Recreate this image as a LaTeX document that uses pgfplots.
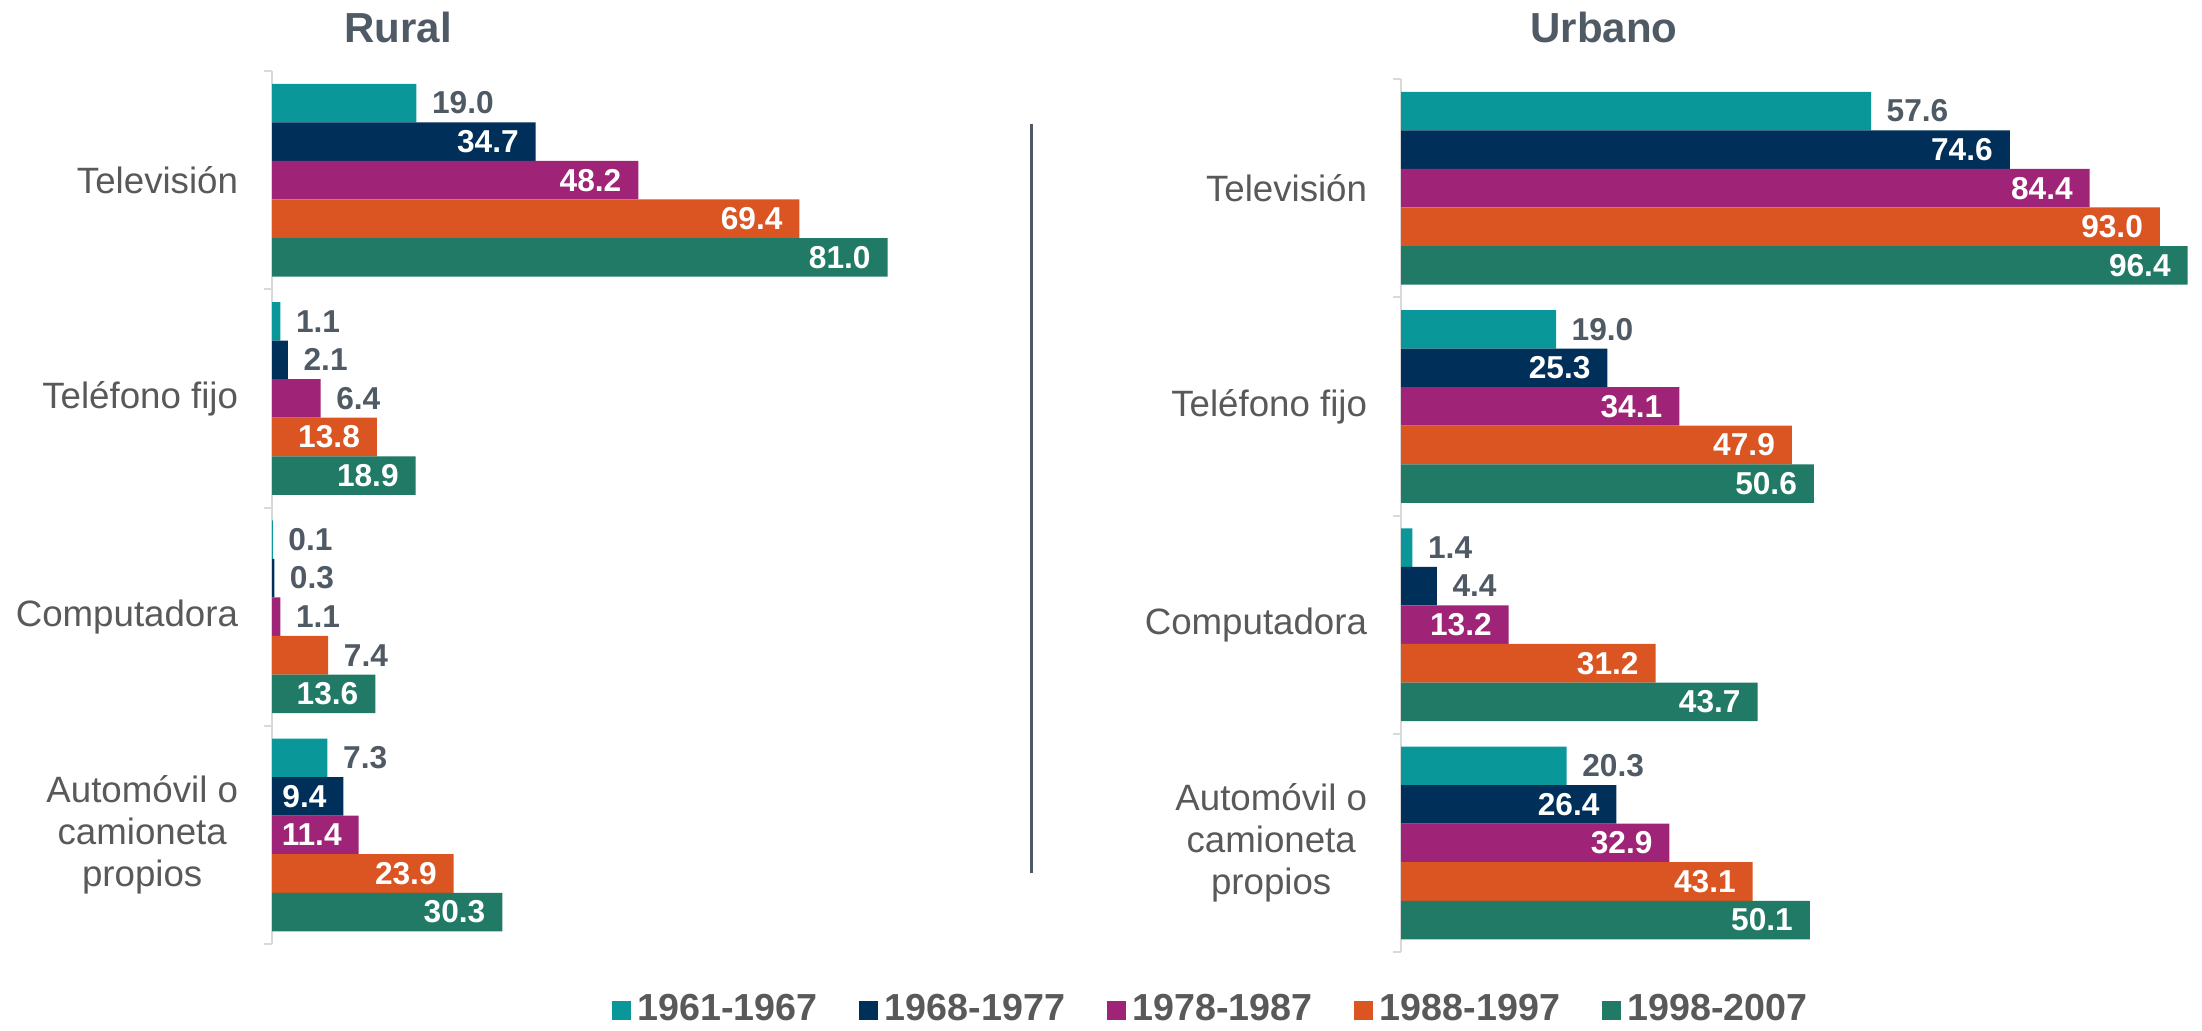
\documentclass[border=0pt]{standalone}
\usepackage{fontspec}
\setmainfont{Liberation Sans}
\usepackage{pgfplots}
\pgfplotsset{compat=1.18}
\definecolor{cA}{HTML}{0A979A}
\definecolor{cB}{HTML}{00305A}
\definecolor{cC}{HTML}{9F2477}
\definecolor{cD}{HTML}{DA5521}
\definecolor{cE}{HTML}{217A65}
\definecolor{lblgray}{HTML}{4F5A65}
\definecolor{catgray}{HTML}{595959}
\definecolor{axgray}{HTML}{D9D9D9}
\definecolor{sepgray}{HTML}{505A64}
\pgfplotsset{
  mybar/.style={xbar, bar width=0.1767, draw=none,
    legend image code/.code={\fill[##1] (0pt,-2.85pt) rectangle (5.7pt,2.85pt);}},
  lblbase/.style={draw=none, mark=none, forget plot,
    y filter/.expression={y+(#1)},
    nodes near coords={\pgfmathprintnumber[fixed,fixed zerofill,precision=1,assume math mode=true]{\pgfplotspointmeta}},
    point meta=x},
  lblout/.style={lblbase=#1, every node near coord/.append style={anchor=west, xshift=4.5pt, inner sep=0pt, text=lblgray, font=\bfseries\fontsize{9.5}{10}\selectfont}},
  lblin/.style={lblbase=#1, every node near coord/.append style={anchor=east, xshift=-4.9pt, inner sep=0pt, text=white, font=\bfseries\fontsize{9.5}{10}\selectfont}},
  common/.style={scale only axis, height=261.9pt, xmin=0, xmax=100, ymin=-0.5, ymax=3.5,
    y dir=reverse, axis x line=none, axis y line*=left,
    ytick={0,1,2,3},
    yticklabels={Televisión,Teléfono fijo,Computadora,{Automóvil o\\camioneta\\propios}},
    minor ytick={-0.5,0.5,1.5,2.5,3.5},
    major tick length=0pt, minor tick length=2.4pt, tick align=outside,
    y axis line style={axgray, line width=0.6pt, -},
    tick style={axgray, line width=0.6pt},
    yticklabel style={align=center, font=\fontsize{11}{12.6}\selectfont, text=catgray, inner sep=0pt, xshift=-10pt},
    title style={anchor=center, yshift=-6pt, font=\bfseries\fontsize{12.6}{14}\selectfont, text=lblgray},
    clip=false},
}
\begin{document}
\begin{tikzpicture}
\path[use as bounding box] (0pt,0pt) rectangle (660.6pt,-309pt);
% ---------------- Rural ----------------
\begin{axis}[common, width=228pt, at={(81.6pt,-283.2pt)}, anchor=south west,
  title={Rural}, title style={at={(0.1658,1.0504)}}]
\addplot[mybar, fill=cA, bar shift=-0.3534] coordinates {(19.0,0) (1.1,1) (0.1,2) (7.3,3)};
\addplot[mybar, fill=cB, bar shift=-0.1767] coordinates {(34.7,0) (2.1,1) (0.3,2) (9.4,3)};
\addplot[mybar, fill=cC, bar shift=0] coordinates {(48.2,0) (6.4,1) (1.1,2) (11.4,3)};
\addplot[mybar, fill=cD, bar shift=0.1767] coordinates {(69.4,0) (13.8,1) (7.4,2) (23.9,3)};
\addplot[mybar, fill=cE, bar shift=0.3534] coordinates {(81.0,0) (18.9,1) (13.6,2) (30.3,3)};
% labels
\addplot[lblout=-0.3534] coordinates {(19.0,0) (1.1,1) (0.1,2) (7.3,3)};
\addplot[lblout=-0.1767] coordinates {(2.1,1) (0.3,2)};
\addplot[lblin=-0.1767]  coordinates {(34.7,0) (9.4,3)};
\addplot[lblout=0] coordinates {(6.4,1) (1.1,2)};
\addplot[lblin=0]  coordinates {(48.2,0) (11.4,3)};
\addplot[lblout=0.1767] coordinates {(7.4,2)};
\addplot[lblin=0.1767]  coordinates {(69.4,0) (13.8,1) (23.9,3)};
\addplot[lblin=0.3534]  coordinates {(81.0,0) (18.9,1) (13.6,2) (30.3,3)};
\draw[sepgray, line width=0.9pt] (axis description cs:0.9987,0.939) -- (axis description cs:0.9987,0.0813);
\end{axis}
% ---------------- Urbano ----------------
\begin{axis}[common, width=244.8pt, at={(420.3pt,-285.6pt)}, anchor=south west,
  title={Urbano}, title style={at={(0.2488,1.0596)}},
  legend style={at={(-0.2304,-0.0664)}, anchor=center, legend columns=5, draw=none, fill=none,
    font=\bfseries\fontsize{11.3}{12}\selectfont, text=catgray,
    nodes={inner xsep=2pt},
    /tikz/every even column/.append style={column sep=10.5pt}},
  legend cell align=left]
\addplot[mybar, fill=cA, bar shift=-0.3534] coordinates {(57.6,0) (19.0,1) (1.4,2) (20.3,3)};
\addlegendentry{1961-1967}
\addplot[mybar, fill=cB, bar shift=-0.1767] coordinates {(74.6,0) (25.3,1) (4.4,2) (26.4,3)};
\addlegendentry{1968-1977}
\addplot[mybar, fill=cC, bar shift=0] coordinates {(84.4,0) (34.1,1) (13.2,2) (32.9,3)};
\addlegendentry{1978-1987}
\addplot[mybar, fill=cD, bar shift=0.1767] coordinates {(93.0,0) (47.9,1) (31.2,2) (43.1,3)};
\addlegendentry{1988-1997}
\addplot[mybar, fill=cE, bar shift=0.3534] coordinates {(96.4,0) (50.6,1) (43.7,2) (50.1,3)};
\addlegendentry{1998-2007}
% labels
\addplot[lblout=-0.3534] coordinates {(57.6,0) (19.0,1) (1.4,2) (20.3,3)};
\addplot[lblout=-0.1767] coordinates {(4.4,2)};
\addplot[lblin=-0.1767]  coordinates {(74.6,0) (25.3,1) (26.4,3)};
\addplot[lblin=0]        coordinates {(84.4,0) (34.1,1) (13.2,2) (32.9,3)};
\addplot[lblin=0.1767]   coordinates {(93.0,0) (47.9,1) (31.2,2) (43.1,3)};
\addplot[lblin=0.3534]   coordinates {(96.4,0) (50.6,1) (43.7,2) (50.1,3)};
\end{axis}
\end{tikzpicture}
\end{document}
